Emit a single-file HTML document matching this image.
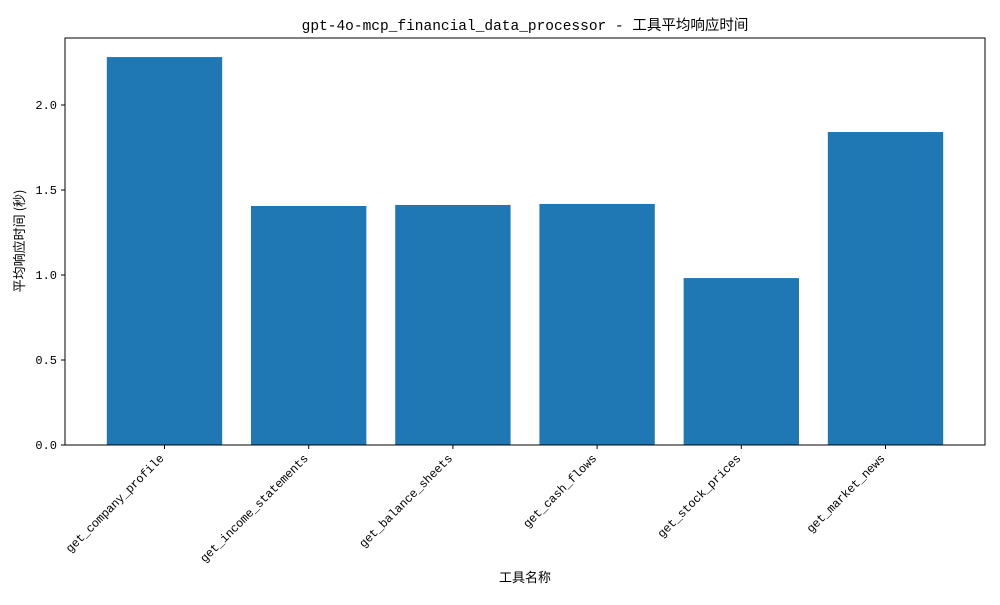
<!DOCTYPE html>
<html><head><meta charset="utf-8"><style>
body{margin:0;background:#fff;}
svg text{font-family:"Liberation Mono","WenQuanYi Zen Hei","Noto Sans CJK SC",monospace;fill:#000;}
</style></head><body>
<svg id="chart" width="1000" height="600" xmlns="http://www.w3.org/2000/svg">
<rect width="1000" height="600" fill="#fff"/>
<text x="525" y="30" font-size="14.5" text-anchor="middle" style="font-family:'Liberation Mono','WenQuanYi Zen Hei','Noto Sans CJK SC',monospace">gpt-4o-mcp_financial_data_processor - 工具平均响应时间</text>
<g id="bars"></g>
<g id="axes"></g>
<rect x="65" y="38" width="920" height="407" fill="none" stroke="#000" stroke-width="1"/>
<text x="525" y="582" font-size="13" text-anchor="middle" style="font-family:'WenQuanYi Zen Hei','Noto Sans CJK SC',sans-serif">工具名称</text>
<text transform="translate(24,241) rotate(-90)" font-size="13" text-anchor="middle" style="font-family:'WenQuanYi Zen Hei','Noto Sans CJK SC',sans-serif">平均响应时间 (秒)</text>
</svg>
<script>
const categories = ["get_company_profile","get_income_statements","get_balance_sheets","get_cash_flows","get_stock_prices","get_market_news"];
const values = [2.282, 1.406, 1.412, 1.418, 0.982, 1.841];
const yTicks = [0.0, 0.5, 1.0, 1.5, 2.0];
const yTickLabels = ["0.0","0.5","1.0","1.5","2.0"];

const NS = "http://www.w3.org/2000/svg";
const L=65,R=985,T=38,B=445;
const xmin=-0.69, xmax=categories.length-1+0.69;
const ymax=(B-T)/170;
function xs(v){return L+(v-xmin)/(xmax-xmin)*(R-L);}
function ys(v){return B-v/ymax*(B-T);}
const bw=0.8*(xs(1)-xs(0));
const bars=document.getElementById('bars'), axes=document.getElementById('axes');
values.forEach((v,i)=>{
  const r=document.createElementNS(NS,'rect');
  r.setAttribute('x',xs(i)-bw/2);r.setAttribute('y',ys(v));
  r.setAttribute('width',bw);r.setAttribute('height',ys(0)-ys(v));
  r.setAttribute('fill','#1f77b4');
  
  
  bars.appendChild(r);
  const t=document.createElementNS(NS,'line');
  t.setAttribute('x1',xs(i));t.setAttribute('x2',xs(i));t.setAttribute('y1',B);t.setAttribute('y2',B+4);t.setAttribute('stroke','#000');
  
  
  axes.appendChild(t);
  const lb=document.createElementNS(NS,'text');
  lb.setAttribute('transform','translate('+(xs(i))+','+(B+14)+') rotate(-45)');
  lb.setAttribute('text-anchor','end');lb.setAttribute('font-size','12');
  lb.setAttribute('letter-spacing','-0.2');
  lb.textContent=categories[i];
  
  
  axes.appendChild(lb);
});
yTicks.forEach((v,i)=>{
  const t=document.createElementNS(NS,'line');
  t.setAttribute('x1',L-4);t.setAttribute('x2',L);t.setAttribute('y1',ys(v));t.setAttribute('y2',ys(v));t.setAttribute('stroke','#000');
  
  
  axes.appendChild(t);
  const lb=document.createElementNS(NS,'text');
  lb.setAttribute('x',L-8);lb.setAttribute('y',ys(v)+4);
  lb.setAttribute('text-anchor','end');lb.setAttribute('font-size','12');
  lb.textContent=yTickLabels[i];
  
  
  axes.appendChild(lb);
});
</script>
</body></html>
